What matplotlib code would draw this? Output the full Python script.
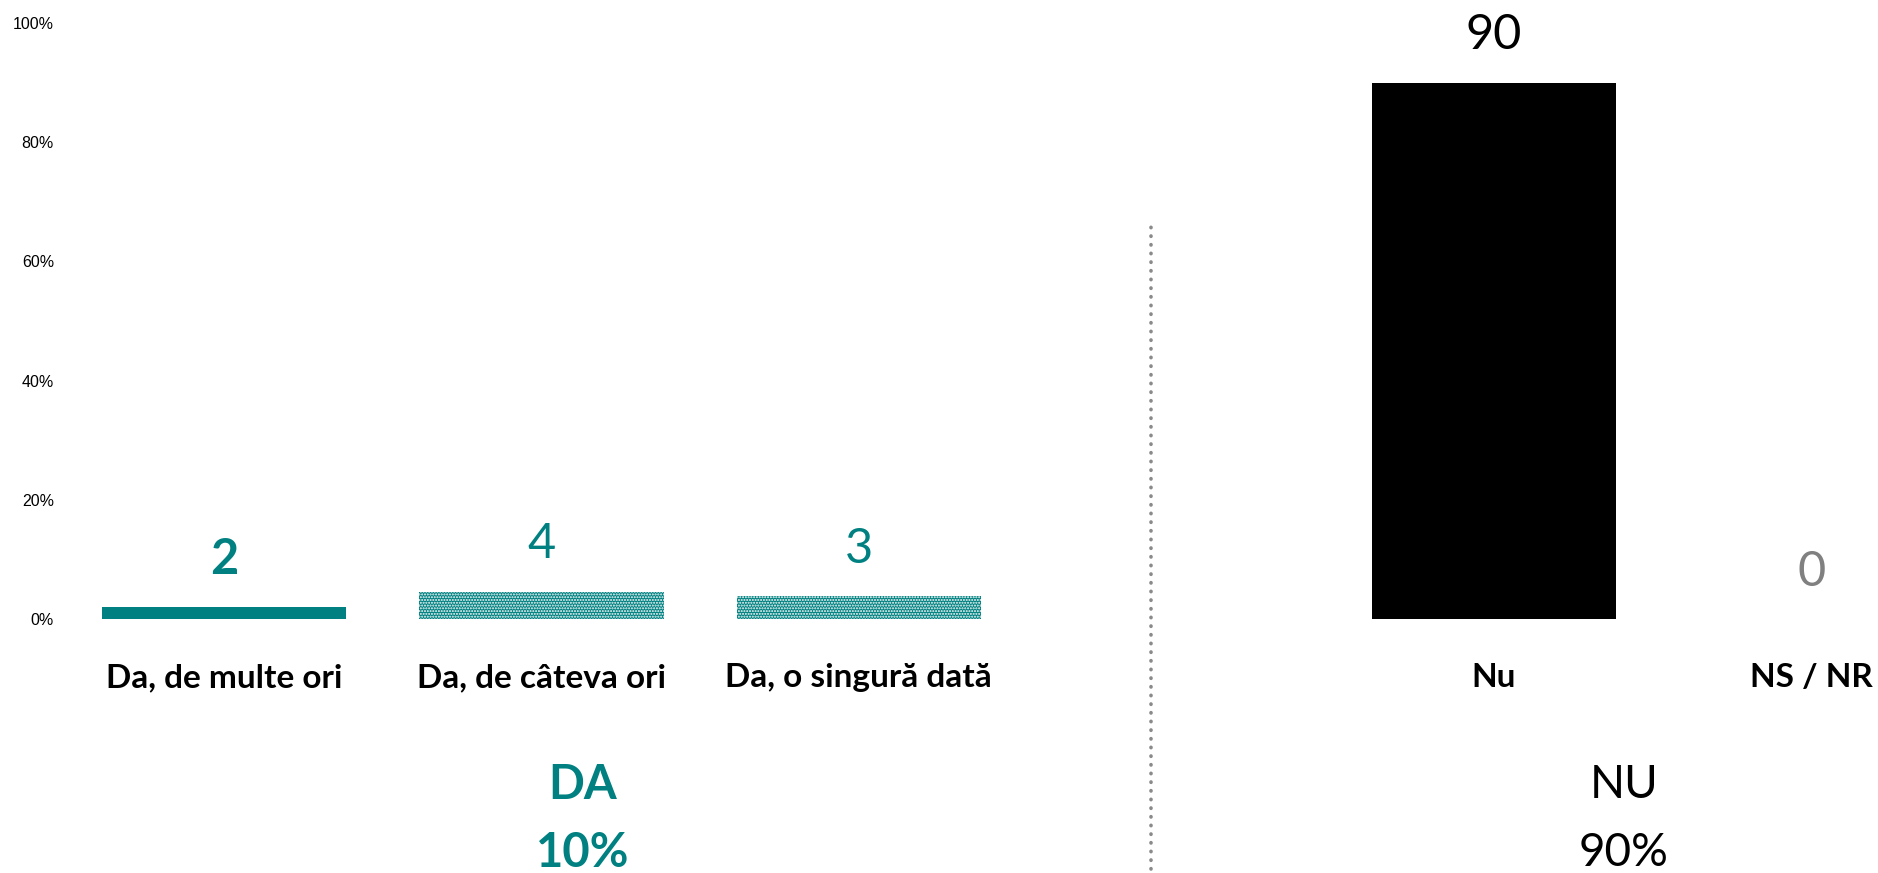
import matplotlib.pyplot as plt
from matplotlib.ticker import PercentFormatter
from matplotlib.transforms import offset_copy

# data
categories = ['Da, de multe ori', 'Da, de câteva ori', 'Da, o singură dată', 'Nu', 'NS / NR']
positions = [0, 1, 2, 4, 5]
values = [2.0, 4.6, 3.8, 90.0, 0.0]
value_labels = ['2', '4', '3', '90', '0']
group_names = ['DA', 'NU']
group_totals = ['10%', '90%']
yticks = [0, 20, 40, 60, 80, 100]

TEAL = '#008080'
GREY = '#808080'

fig = plt.figure(figsize=(18.78, 8.73), dpi=100)
ax = fig.add_axes([65 / 1878, 254 / 873, 1 - 65 / 1878, 596 / 873])

face = [TEAL, TEAL, TEAL, 'black', 'black']
hatch = [None, '......', '......', None, None]
for p, v, fc, h in zip(positions, values, face, hatch):
    if h:
        ax.bar(p, v, 0.77, color=fc, edgecolor='white', linewidth=0, hatch=h)
    else:
        ax.bar(p, v, 0.77, color=fc, linewidth=0)

lbl_color = [TEAL, TEAL, TEAL, 'black', GREY]
lbl_weight = ['bold', 'normal', 'normal', 'normal', 'normal']
off = offset_copy(ax.transData, fig=fig, y=24, units='points')
for p, v, t, c, w in zip(positions, values, value_labels, lbl_color, lbl_weight):
    ax.text(p, v, t, transform=off, ha='center', va='baseline',
            fontsize=35, color=c, fontweight=w, family='Lato')

ax.set_xlim(-0.5, 5.21)
ax.set_ylim(0, 100)
ax.set_yticks(yticks)
ax.yaxis.set_major_formatter(PercentFormatter(decimals=0))
for lab in ax.get_yticklabels():
    lab.set_family('Liberation Sans')
    lab.set_fontsize(11.5)
ax.tick_params(axis='y', length=0, pad=8)

ax.set_xticks(positions)
ax.set_xticklabels(categories, family='Lato', fontweight='bold', fontsize=24)
ax.tick_params(axis='x', length=0, pad=32)

for s in ax.spines.values():
    s.set_visible(False)

# group totals under the categories
ax.text(1.13, -27.9, group_names[0], ha='center', va='center', fontsize=34,
        fontweight='bold', color=TEAL, family='Lato', clip_on=False)
ax.text(1.13, -39.3, group_totals[0], ha='center', va='center', fontsize=34,
        fontweight='bold', color=TEAL, family='Lato', clip_on=False)
ax.text(4.41, -27.9, group_names[1], ha='center', va='center', fontsize=33,
        color='black', family='Lato', clip_on=False)
ax.text(4.41, -39.3, group_totals[1], ha='center', va='center', fontsize=33,
        color='black', family='Lato', clip_on=False)

# dotted separator
ax.plot([2.92, 2.92], [-42, 66.6], linestyle=(0, (0.1, 2.3)), color='#8a8a8a',
        linewidth=2.6, dash_capstyle='round', clip_on=False)

fig.savefig('out.png', dpi=100)
